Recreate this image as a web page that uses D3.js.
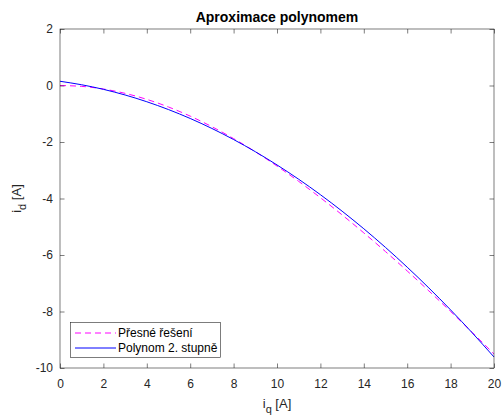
<!DOCTYPE html>
<html>
<head>
<meta charset="utf-8">
<script src="https://cdn.jsdelivr.net/npm/d3@7"></script>
<style>
  body { margin: 0; background: #fff; }
  svg { display: block; font-family: "Liberation Sans", Arial, sans-serif; }
</style>
</head>
<body>
<svg id="chart" width="502" height="418"></svg>
<script>
const iq = [0,1,2,3,4,5,6,7,8,9,10,11,12,13,14,15,16,17,18,19,20];
const exactId = [0,-0.031,-0.124,-0.278,-0.491,-0.761,-1.084,-1.458,-1.880,-2.345,-2.851,-3.394,-3.972,-4.580,-5.217,-5.879,-6.565,-7.273,-7.999,-8.743,-9.503];
const polyId = [0.150,0.026,-0.136,-0.336,-0.575,-0.852,-1.167,-1.521,-1.913,-2.343,-2.812,-3.319,-3.865,-4.449,-5.071,-5.732,-6.431,-7.168,-7.944,-8.758,-9.610];
const xTicks = [0,2,4,6,8,10,12,14,16,18,20];
const yTicks = [-10,-8,-6,-4,-2,0,2];
const seriesNames = ["Přesné řešení", "Polynom 2. stupně"];
const titleText = "Aproximace polynomem";

const svg = d3.select("#chart");
const L = 60, R = 494, T = 29, B = 368;
const x = d3.scaleLinear().domain([0,20]).range([L,R]);
const y = d3.scaleLinear().domain([-10,2]).range([B,T]);
const axisColor = "#262626";
const fmt = d => String(d);

svg.append("rect").attr("x",L).attr("y",T).attr("width",R-L).attr("height",B-T).attr("fill","#fff");

// curves
const line = (vals) => d3.line().x((d,i)=>x(iq[i])).y(d=>y(d)).curve(d3.curveNatural)(vals);
svg.append("path").attr("d", line(exactId)).attr("fill","none")
  .attr("stroke","#ff00ff").attr("stroke-width",1).attr("stroke-dasharray","6,4");
svg.append("path").attr("d", line(polyId)).attr("fill","none")
  .attr("stroke","#0000ff").attr("stroke-width",1);

// axes
const tl = 4.5;
const gx = svg.append("g").attr("transform",`translate(0,${B})`)
  .call(d3.axisBottom(x).tickValues(xTicks).tickSizeInner(-tl).tickSizeOuter(0).tickFormat(fmt));
const gxt = svg.append("g").attr("transform",`translate(0,${T})`)
  .call(d3.axisTop(x).tickValues(xTicks).tickSizeInner(-tl).tickSizeOuter(0).tickFormat(""));
const gy = svg.append("g").attr("transform",`translate(${L},0)`)
  .call(d3.axisLeft(y).tickValues(yTicks).tickSizeInner(-tl).tickSizeOuter(0).tickPadding(7).tickFormat(fmt));
const gyr = svg.append("g").attr("transform",`translate(${R},0)`)
  .call(d3.axisRight(y).tickValues(yTicks).tickSizeInner(-tl).tickSizeOuter(0).tickFormat(""));
[gx,gxt,gy,gyr].forEach(g=>{
  g.select(".domain").remove();
  g.selectAll(".tick line").attr("stroke",axisColor).attr("stroke-width",0.6);
  g.selectAll(".tick text").attr("fill",axisColor).attr("font-size",12).attr("font-family","Liberation Sans, Arial, sans-serif");
});
gx.selectAll(".tick text").attr("y",20).attr("dy","0");
svg.append("rect").attr("x",L).attr("y",T).attr("width",R-L).attr("height",B-T)
  .attr("fill","none").attr("stroke",axisColor).attr("stroke-width",0.6);

// title
svg.append("text").attr("x",(L+R)/2).attr("y",22).attr("text-anchor","middle")
  .attr("font-size",14).attr("font-weight","bold").attr("fill","#000").text(titleText);

// x label
const xl = svg.append("text").attr("x",(L+R)/2).attr("y",408).attr("text-anchor","middle")
  .attr("font-size",13).attr("fill",axisColor);
xl.append("tspan").text("i");
xl.append("tspan").attr("dy",5).attr("font-size",11).text("q");
xl.append("tspan").attr("dy",-5).text(" [A]");

// y label
const yl = svg.append("text").attr("transform",`translate(21,${(T+B)/2}) rotate(-90)`)
  .attr("text-anchor","middle").attr("font-size",13).attr("fill",axisColor);
yl.append("tspan").text("i");
yl.append("tspan").attr("dy",5).attr("font-size",11).text("d");
yl.append("tspan").attr("dy",-5).text(" [A]");

// legend
const lg = svg.append("g");
lg.append("rect").attr("x",70.5).attr("y",322.5).attr("width",150).attr("height",35)
  .attr("fill","#fff").attr("stroke",axisColor).attr("stroke-width",0.6);
const styles = [{c:"#ff00ff",d:"6,4"},{c:"#0000ff",d:null}];
seriesNames.forEach((n,i)=>{
  const yy = 333 + i*15;
  const l = lg.append("line").attr("x1",75).attr("x2",116).attr("y1",yy).attr("y2",yy)
    .attr("stroke",styles[i].c).attr("stroke-width",1);
  if (styles[i].d) l.attr("stroke-dasharray",styles[i].d);
  lg.append("text").attr("x",118).attr("y",yy+4).attr("font-size",12).attr("fill","#000").text(n);
});
</script>
</body>
</html>
